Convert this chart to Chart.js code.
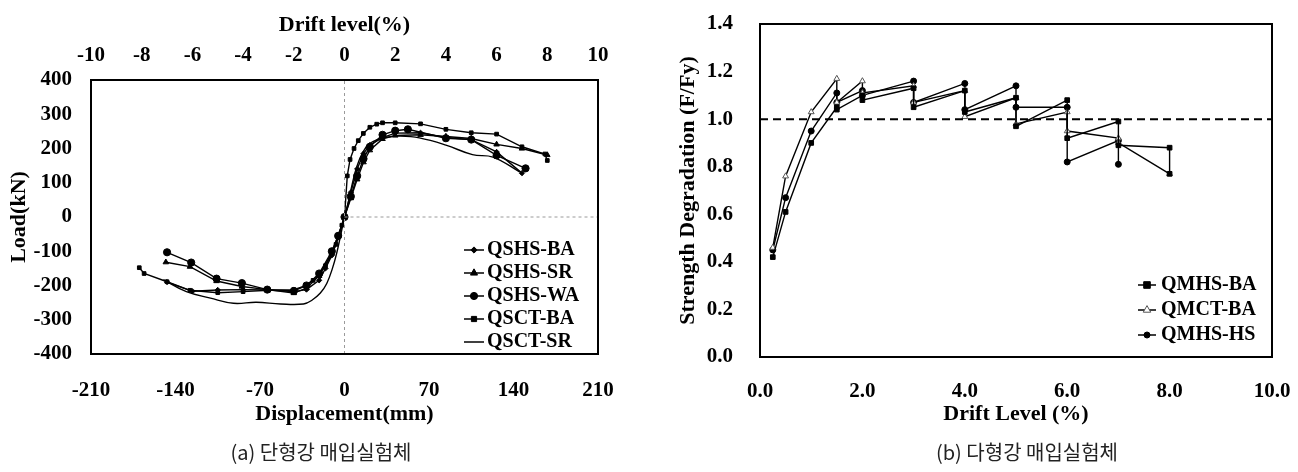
<!DOCTYPE html>
<html>
<head>
<meta charset="utf-8">
<script src="https://cdn.jsdelivr.net/npm/chart.js"></script>
<style>
  body { margin: 0; background: #fff; width: 1298px; height: 472px; position: relative; overflow: hidden; }
  canvas { position: absolute; top: 0; }
  #loadChart { left: 0; }
  #degChart { left: 640px; }
  .cap { position: absolute; top: 437px; font-family: "Noto Sans CJK KR", sans-serif; font-size: 20px; color: #222;
         white-space: nowrap; transform: translateX(-50%); }
</style>
</head>
<body>
<canvas id="loadChart" width="640" height="440"></canvas>
<canvas id="degChart" width="658" height="440"></canvas>
<div class="cap" style="left:321px">(a) 단형강 매입실험체</div>
<div class="cap" style="left:1027px">(b) 다형강 매입실험체</div>
<script>
// Envelope curves, [displacement mm, load kN]
const qshsBA = [[-147,-190],[-126,-217],[-105,-213],[-84,-212],[-63,-213],[-42,-218],[-31.5,-212],[-21,-185],[-15.75,-150],[-10.5,-112],[-5.25,-60],[0,0],
  [5.25,72],[10.5,140],[15.75,185],[21,210],[31.5,232],[42,245],[63,246],[84,232],[105,226],[126,190],[147,128]];
const qshsSR = [[-148,-132],[-128,-145],[-106,-187],[-85,-203],[-64,-212],[-42,-222],[-31.5,-208],[-21,-172],[-10.5,-105],[-5.25,-55],[0,0],
  [5.25,55],[10.5,110],[15.75,160],[21,195],[31.5,228],[42,238],[63,240],[84,235],[105,229],[126,212],[147,200],[168,181]];
const qshsWA = [[-147,-103],[-127,-133],[-106,-180],[-85,-193],[-64,-212],[-42,-216],[-31.5,-200],[-21,-165],[-10.5,-100],[-5.25,-55],[0,0],
  [5.25,60],[10.5,120],[15.75,170],[21,205],[31.5,240],[42,252],[52.5,256],[84,230],[105,226],[126,180],[150,142]];
const qsctBA = [[-170,-148],[-166,-165],[-147,-189],[-128,-214],[-105,-221],[-84,-218],[-63,-214],[-42,-212],[-31.5,-200],[-26,-185],[-21,-168],
  [-15.75,-142],[-10.5,-108],[-7,-80],[-4.5,-52],[-2.2,-24],[0,0],[2.3,120],[4.6,168],[7.9,200],[11.4,223],[15.6,244],[21,262],[26.7,271],
  [31.5,275],[42,275],[63,272],[84,256],[105,246],[126,242],[147,205],[166,184],[168,165]];
const qsctSR = [[-150,-183],[-131,-218],[-111,-237],[-92,-252],[-73,-249],[-53,-254],[-34,-254],[-27,-243],[-20,-222],[-14.7,-194],[-10,-150],
  [-6.5,-106],[-3,-50],[0,0],[3,40],[6,90],[10,145],[15,188],[20,212],[27,226],[35,233],[46,236],[62,231],[84,210],[106,182],[123,175],[145,132]];
const zeroV = [[0,-400],[0,400]];
const zeroH = [[0,0],[210,0]];

const dispTicks = [-210, -140, -70, 0, 70, 140, 210];
const driftTopTicks = [-10, -8, -6, -4, -2, 0, 2, 4, 6, 8, 10];
const loadTicks = [-400, -300, -200, -100, 0, 100, 200, 300, 400];

// Strength degradation, [drift %, F/Fy]; repeated drift = later cycles at that level
const qmhsBA = [[0.25,0.42],[0.5,0.61],[1.0,0.90],[1.5,1.05],[1.5,1.04],[2.0,1.10],[2.0,1.08],[3.0,1.13],[3.0,1.05],[4.0,1.12],[4.0,1.03],
  [5.0,1.09],[5.0,0.97],[6.0,1.08],[6.0,0.92],[7.0,0.99],[7.0,0.89],[8.0,0.88],[8.0,0.77]];
const qmctBA = [[0.25,0.46],[0.5,0.76],[1.0,1.03],[1.5,1.17],[1.5,1.07],[2.0,1.16],[2.0,1.11],[3.0,1.14],[3.0,1.07],[4.0,1.12],[4.0,1.01],
  [5.0,1.09],[5.0,0.98],[6.0,1.03],[6.0,0.95],[7.0,0.92],[7.0,0.90],[8.0,0.77]];
const qmhsHS = [[0.25,0.45],[0.5,0.67],[1.0,0.95],[1.5,1.11],[1.5,1.07],[2.0,1.12],[2.0,1.10],[3.0,1.16],[3.0,1.07],[4.0,1.15],[4.0,1.04],
  [5.0,1.14],[5.0,1.05],[6.0,1.05],[6.0,0.82],[7.0,0.91],[7.0,0.81]];
const yieldLine = [[0,1],[10,1]];

const driftTicks = [0, 2, 4, 6, 8, 10];
const ratioTicks = [0, 0.2, 0.4, 0.6, 0.8, 1.0, 1.2, 1.4];

const serif = "'Liberation Serif', 'Times New Roman', serif";
const tickFont = { family: serif, size: 21, weight: 'bold' };
const titleFont = { family: serif, size: 22, weight: 'bold' };
const pts = arr => arr.map(([x, y]) => ({ x, y }));
const fixTicks = list => s => { s.ticks = list.map(v => ({ value: v })); };

// box around the plot area
const frame = {
  id: 'frame',
  afterDatasetsDraw(chart) {
    const { ctx, chartArea: a } = chart;
    ctx.save();
    ctx.strokeStyle = '#000';
    ctx.lineWidth = 2;
    ctx.strokeRect(a.left, a.top, a.right - a.left, a.bottom - a.top);
    ctx.restore();
  }
};

function drawMarker(ctx, d, x, y) {
  const r = d.pointRadius;
  ctx.save();
  ctx.fillStyle = d.pointBackgroundColor;
  ctx.strokeStyle = d.pointBorderColor;
  ctx.lineWidth = 1;
  ctx.beginPath();
  if (d.pointStyle === 'rect') {
    ctx.rect(x - r, y - r, 2 * r, 2 * r);
  } else if (d.pointStyle === 'rectRot') {
    ctx.moveTo(x, y - r * 1.2); ctx.lineTo(x + r * 1.2, y); ctx.lineTo(x, y + r * 1.2); ctx.lineTo(x - r * 1.2, y); ctx.closePath();
  } else if (d.pointStyle === 'triangle') {
    ctx.moveTo(x, y - r * 1.3); ctx.lineTo(x + r * 1.1, y + r * 0.65); ctx.lineTo(x - r * 1.1, y + r * 0.65); ctx.closePath();
  } else {
    ctx.arc(x, y, r, 0, Math.PI * 2);
  }
  ctx.fill();
  ctx.stroke();
  ctx.restore();
}

// legend drawn inside the plot, one row per labelled series
const keyBox = {
  id: 'keyBox',
  afterDraw(chart, args, o) {
    const ctx = chart.ctx;
    ctx.save();
    ctx.font = `bold ${o.size}px ${serif}`;
    ctx.textBaseline = 'middle';
    chart.data.datasets.filter(d => d.label).forEach((d, i) => {
      const y = o.y + i * o.dy;
      ctx.strokeStyle = '#000';
      ctx.lineWidth = 1.5;
      ctx.beginPath();
      ctx.moveTo(o.x, y);
      ctx.lineTo(o.x + o.len, y);
      ctx.stroke();
      if (d.pointRadius > 0) drawMarker(ctx, d, o.x + o.len / 2, y);
      ctx.fillStyle = '#000';
      ctx.fillText(d.label, o.x + o.len + o.gap, y);
    });
    ctx.restore();
  }
};

const series = { type: 'scatter', showLine: true, borderColor: '#000', borderWidth: 1.4,
  pointBackgroundColor: '#000', pointBorderColor: '#000', pointBorderWidth: 1 };
const guide = { type: 'scatter', showLine: true, borderColor: '#9a9a9a', borderWidth: 1, borderDash: [3, 3], pointRadius: 0 };

// invisible tick marks keep the label offset without widening the layout padding
const axis = gap => ({
  type: 'linear',
  grid: { display: true, color: 'transparent', drawOnChartArea: false, drawTicks: true, tickLength: gap },
  border: { display: false },
});
const tickOpts = extra => ({ padding: 0, color: '#000', font: tickFont, autoSkip: false, maxRotation: 0, ...extra });

new Chart(document.getElementById('loadChart'), {
  type: 'scatter',
  data: {
    datasets: [
      { ...guide, data: pts(zeroV) },
      { ...guide, data: pts(zeroH) },
      { ...series, label: 'QSHS-BA', data: pts(qshsBA), pointStyle: 'rectRot', pointRadius: 2.6 },
      { ...series, label: 'QSHS-SR', data: pts(qshsSR), pointStyle: 'triangle', pointRadius: 3.2 },
      { ...series, label: 'QSHS-WA', data: pts(qshsWA), pointStyle: 'circle', pointRadius: 3.6 },
      { ...series, label: 'QSCT-BA', data: pts(qsctBA), pointStyle: 'rect', pointRadius: 2.6 },
      { ...series, label: 'QSCT-SR', data: pts(qsctSR), pointRadius: 0, tension: 0.4 }
    ]
  },
  options: {
    responsive: false,
    animation: false,
    layout: { padding: { left: 0, right: 42, top: 0, bottom: 0 } },
    plugins: {
      legend: { display: false },
      tooltip: { enabled: false },
      keyBox: { x: 464, y: 250, dy: 23, len: 20, gap: 3, size: 20 }
    },
    scales: {
      x: { ...axis(24), position: 'bottom', min: -210, max: 210,
        afterBuildTicks: fixTicks(dispTicks),
        afterFit: s => { s.height = 86; },
        ticks: tickOpts({}),
        title: { display: true, text: 'Displacement(mm)', color: '#000', font: titleFont, padding: { top: 0, bottom: 12 } } },
      x2: { ...axis(12), position: 'top', min: -10, max: 10,
        afterBuildTicks: fixTicks(driftTopTicks),
        afterFit: s => { s.height = 80; },
        ticks: tickOpts({}),
        title: { display: true, text: 'Drift level(%)', color: '#000', font: titleFont, padding: { top: 12, bottom: 0 } } },
      y: { ...axis(19), position: 'left', min: -400, max: 400,
        afterBuildTicks: fixTicks(loadTicks),
        afterFit: s => { s.width = 91; },
        ticks: tickOpts({}),
        title: { display: true, text: 'Load(kN)', color: '#000', font: titleFont, padding: { top: 6, bottom: 0 } } }
    }
  },
  plugins: [frame, keyBox]
});

new Chart(document.getElementById('degChart'), {
  type: 'scatter',
  data: {
    datasets: [
      { type: 'scatter', showLine: true, data: pts(yieldLine), borderColor: '#000', borderWidth: 2, borderDash: [8, 5], pointRadius: 0 },
      { ...series, label: 'QMHS-BA', data: pts(qmhsBA), pointStyle: 'rect', pointRadius: 3.3 },
      { ...series, label: 'QMCT-BA', data: pts(qmctBA), pointStyle: 'triangle', pointRadius: 3.4,
        pointBackgroundColor: '#fff', pointBorderColor: '#555' },
      { ...series, label: 'QMHS-HS', data: pts(qmhsHS), pointStyle: 'circle', pointRadius: 3 }
    ]
  },
  options: {
    responsive: false,
    animation: false,
    layout: { padding: { left: 0, right: 26, top: 24, bottom: 0 } },
    plugins: {
      legend: { display: false },
      tooltip: { enabled: false },
      keyBox: { x: 498, y: 285, dy: 25, len: 18, gap: 5, size: 20 }
    },
    scales: {
      x: { ...axis(22), position: 'bottom', min: 0, max: 10,
        afterBuildTicks: fixTicks(driftTicks),
        afterFit: s => { s.height = 83; },
        ticks: tickOpts({ callback: v => v.toFixed(1) }),
        title: { display: true, text: 'Drift Level (%)', color: '#000', font: titleFont, padding: { top: 0, bottom: 12 } } },
      y: { ...axis(27), position: 'left', min: 0, max: 1.4,
        afterBuildTicks: fixTicks(ratioTicks),
        afterFit: s => { s.width = 120; },
        ticks: tickOpts({ callback: v => v.toFixed(1) }),
        title: { display: true, text: 'Strength Degradation (F/Fy)', color: '#000', font: titleFont, padding: { top: 35, bottom: 0 } } }
    }
  },
  plugins: [frame, keyBox]
});
</script>
</body>
</html>
